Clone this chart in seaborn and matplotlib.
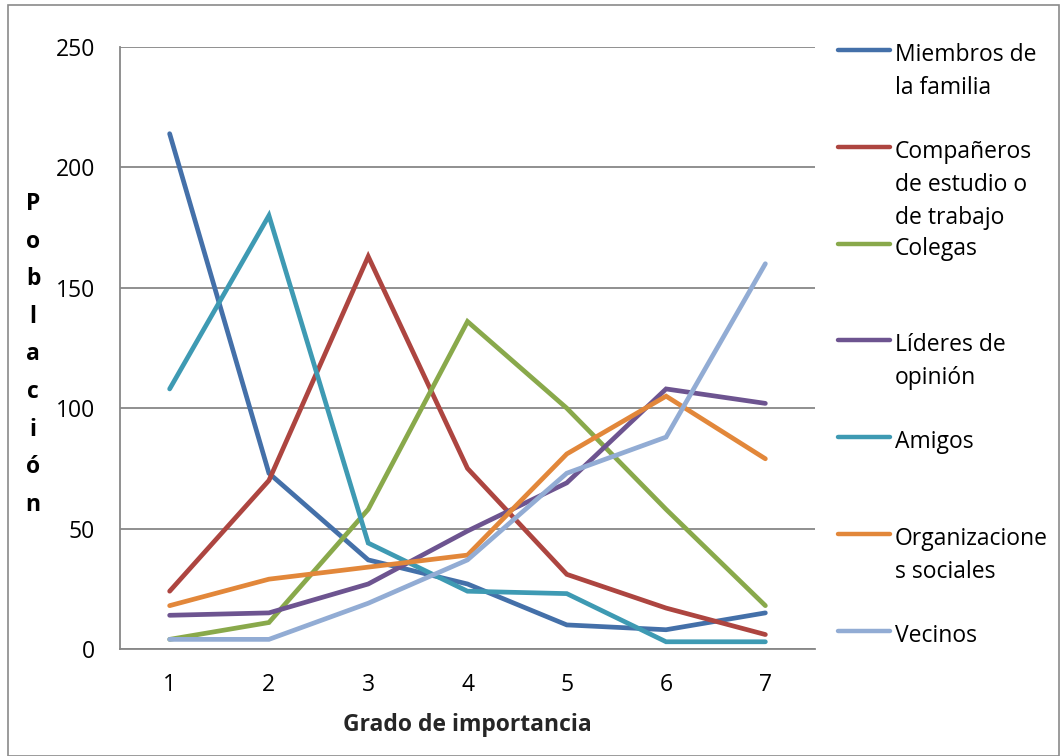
import numpy as np
import pandas as pd
import matplotlib
matplotlib.use("Agg")
import matplotlib.pyplot as plt
import seaborn as sns
from matplotlib.lines import Line2D
from matplotlib.patches import Rectangle

# Grado de importancia (1 = más importante ... 7 = menos importante)
grados = [1, 2, 3, 4, 5, 6, 7]

miembros_familia = [214, 73, 37, 27, 10, 8, 15]
companeros = [24, 70, 163, 75, 31, 17, 6]
colegas = [4, 11, 58, 136, 100, 58, 18]
lideres_opinion = [14, 15, 27, 49, 69, 108, 102]
amigos = [108, 180, 44, 24, 23, 3, 3]
organizaciones = [18, 29, 34, 39, 81, 105, 79]
vecinos = [4, 4, 19, 37, 73, 88, 160]

series_names = [
    "Miembros de la familia",
    "Compañeros de estudio o de trabajo",
    "Colegas",
    "Líderes de opinión",
    "Amigos",
    "Organizaciones sociales",
    "Vecinos",
]
legend_labels = [
    "Miembros de\nla familia",
    "Compañeros\nde estudio o\nde trabajo",
    "Colegas",
    "Líderes de\nopinión",
    "Amigos",
    "Organizacione\ns sociales",
    "Vecinos",
]
series_values = [miembros_familia, companeros, colegas, lideres_opinion,
                 amigos, organizaciones, vecinos]
colors = ["#4470A9", "#AD4540", "#89A94B", "#6D5490", "#3E9AB3", "#E2873A", "#92ACD4"]

y_ticks = [0, 50, 100, 150, 200, 250]

df = pd.DataFrame({
    "grado": np.tile(grados, len(series_names)),
    "serie": np.repeat(series_names, len(grados)),
    "poblacion": np.concatenate(series_values),
})

sns.set_theme(style="white")
plt.rcParams["font.family"] = ["Open Sans", "DejaVu Sans"]

W, H = 1060, 756
fig = plt.figure(figsize=(W / 100, H / 100), dpi=100)
ax = fig.add_axes([120 / W, 1 - 649 / H, (815 - 120) / W, (649 - 47) / H])

sns.lineplot(data=df, x="grado", y="poblacion", hue="serie",
             hue_order=series_names, palette=colors, linewidth=3.4,
             legend=False, ax=ax, solid_capstyle="round", solid_joinstyle="miter")

grid_col = "#878787"
ax.set_xlim(0.5, 7.5)
ax.set_ylim(0, 250)
ax.set_yticks(y_ticks)
ax.set_yticklabels([str(v) for v in y_ticks])
ax.yaxis.grid(True, color=grid_col, linewidth=1.3)
ax.xaxis.grid(False)
ax.set_axisbelow(True)

# category boundaries carry the tick marks, labels sit at category centres
ax.set_xticks(np.arange(0.5, 8.0, 1.0))
ax.set_xticklabels([])
ax.set_xticks(grados, minor=True)
ax.set_xticklabels([str(g) for g in grados], minor=True)
ax.tick_params(axis="x", which="major", length=8, width=1.3, color=grid_col, direction="out")
ax.tick_params(axis="x", which="minor", length=0, pad=17, labelsize=16.5, labelcolor="black")
ax.tick_params(axis="y", length=8, width=1.3, color=grid_col, direction="out", pad=10,
               labelsize=16.5, labelcolor="black")

for side in ["top", "right"]:
    ax.spines[side].set_visible(False)
for side in ["left", "bottom"]:
    ax.spines[side].set_color(grid_col)
    ax.spines[side].set_linewidth(1.3)

ax.set_xlabel("Grado de importancia", fontsize=16.5, fontweight="bold", labelpad=12)
ax.set_ylabel("")

# vertical stacked y-axis title
for i, ch in enumerate("Población"):
    fig.text(33 / W, 1 - (210 + i * 37.6) / H, ch, ha="center", va="baseline",
             fontsize=16.5, fontweight="bold", color="black")

# legend on the right: handle level with the first line of each entry
for i, (lab, col) in enumerate(zip(legend_labels, colors)):
    yy = 50 + i * 96.8
    fig.add_artist(Line2D([838 / W, 890 / W], [1 - yy / H, 1 - yy / H], color=col,
                          linewidth=3.2, solid_capstyle="round", transform=fig.transFigure))
    fig.text(895 / W, 1 - (yy - 7) / H, lab, ha="left", va="top",
             fontsize=16.5, color="black", linespacing=1.5)

# chart border
fig.add_artist(Rectangle((8 / W, 0.5 / H), (W - 9) / W, (H - 5.5) / H,
                         transform=fig.transFigure, fill=False,
                         edgecolor="#8a8a8a", linewidth=1.2))

fig.savefig("out.png", dpi=100)
